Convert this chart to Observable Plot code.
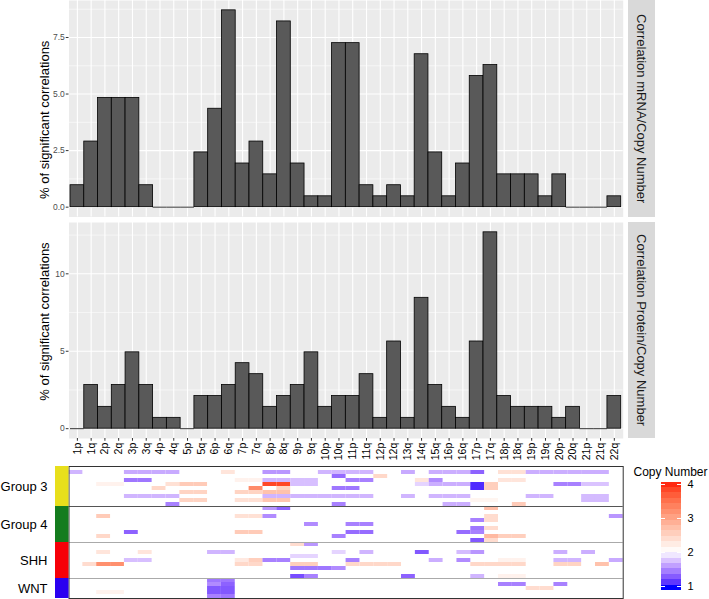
<!DOCTYPE html>
<html><head><meta charset="utf-8">
<script src="https://cdn.jsdelivr.net/npm/d3@7"></script>
<script src="https://cdn.jsdelivr.net/npm/@observablehq/plot@0.6"></script>
<style>
body{margin:0;background:#fff;font-family:"Liberation Sans",Arial,Helvetica,sans-serif;}
#root{position:relative;width:709px;height:599px;overflow:hidden;background:#fff;}
#root > *{position:absolute;}
.strip{background:#D9D9D9;color:#1A1A1A;font-size:13px;writing-mode:vertical-rl;display:flex;align-items:center;justify-content:center;white-space:nowrap;}
</style></head><body><div id="root"></div>
<script>
// ---------------- data ----------------
const arms = ["1p","1q","2p","2q","3p","3q","4p","4q","5p","5q","6p","6q","7p","7q","8p","8q","9p","9q","10p","10q",
  "11p","11q","12p","12q","13q","14q","15q","16p","16q","17p","17q","18p","18q","19p","19q","20p","20q","21p","21q","22q"];
const mrnaPct = [0.97,2.90,4.83,4.83,4.83,0.97,0,0,0,2.42,4.35,8.70,1.93,2.90,1.45,8.21,1.93,0.48,0.48,7.25,
  7.25,0.97,0.48,0.97,0.48,6.76,2.42,0.48,1.93,5.80,6.28,1.45,1.45,1.45,0.48,1.45,0,0,0,0.48];
const proteinPct = [0,2.82,1.41,2.82,4.93,2.82,0.70,0.70,0,2.11,2.11,2.82,4.23,3.52,1.41,2.11,2.82,4.93,1.41,2.11,
  2.11,3.52,0.70,5.63,0.70,8.45,2.82,1.41,0.70,5.63,12.68,2.11,1.41,1.41,1.41,0.70,1.41,0,0,2.11];
const mrnaTicks = [0, 2.5, 5, 7.5];
const mrnaMinor = [1.25, 3.75, 6.25, 8.75];
const proteinTicks = [0, 5, 10];
const proteinMinor = [2.5, 7.5, 12.5];
const yTitle = "% of significant correlations";
const stripLabels = ["Correlation mRNA/Copy Number", "Correlation Protein/Copy Number"];

const groupNames = ["Group 3", "Group 4", "SHH", "WNT"];
const groupSizes = [10, 9, 9, 5];
const groupColors = ["#e8df1c", "#147c1e", "#f60008", "#2a00f0"];

// [group, sample row within group, first arm, last arm, copy number]
const cnSegments = [
  ["Group 3",1,"1p","1p",1.65],["Group 3",1,"3p","4q",1.6],["Group 3",1,"6q","6q",2.3],["Group 3",1,"8p","8q",1.5],
  ["Group 3",1,"10p","11q",1.65],["Group 3",1,"13q","13q",1.6],["Group 3",1,"15q","16q",1.62],["Group 3",1,"17p","17p",1.25],
  ["Group 3",1,"18p","18q",2.35],["Group 3",1,"19p","21q",1.62],
  ["Group 3",2,"10q","10q",1.3],["Group 3",2,"12p","12p",2.45],
  ["Group 3",3,"3p","3q",1.35],["Group 3",3,"7p","7q",2.15],["Group 3",3,"8p","8q",1.65],["Group 3",3,"9p","9q",1.7],
  ["Group 3",3,"11p","11q",1.4],["Group 3",3,"14q","14q",2.3],["Group 3",3,"15q","15q",1.45],["Group 3",3,"18p","18q",2.3],
  ["Group 3",4,"2p","2q",2.15],["Group 3",4,"4q","4q",2.35],["Group 3",4,"5p","5q",2.6],["Group 3",4,"8p","8q",3.9],
  ["Group 3",4,"9p","9q",1.7],["Group 3",4,"14q","14q",1.8],["Group 3",4,"15q","16q",1.62],["Group 3",4,"17p","17p",1.0],
  ["Group 3",4,"17q","17q",2.55],["Group 3",4,"20p","20q",1.4],["Group 3",4,"21p","21q",1.72],
  ["Group 3",5,"4p","4p",2.45],["Group 3",5,"7q","7q",3.3],["Group 3",5,"8q","8q",2.5],["Group 3",5,"10q","11p",1.35],
  ["Group 3",5,"17p","17p",1.0],["Group 3",5,"17q","17q",2.55],
  ["Group 3",6,"5p","5q",2.5],["Group 3",6,"7p","7q",2.5],["Group 3",6,"8p","8q",2.7],
  ["Group 3",7,"3p","4q",1.65],["Group 3",7,"8p","11q",1.65],["Group 3",7,"13q","13q",1.65],["Group 3",7,"15q","16q",1.65],
  ["Group 3",7,"19p","19q",1.65],["Group 3",7,"21p","21q",1.68],
  ["Group 3",8,"5p","5q",2.5],["Group 3",8,"7p","7q",2.35],["Group 3",8,"8p","8q",2.65],["Group 3",8,"17p","17q",2.12],
  ["Group 3",8,"21p","21q",1.68],
  ["Group 3",9,"4q","4q",1.4],["Group 3",9,"10q","10q",1.4],["Group 3",9,"16p","16q",1.62],["Group 3",9,"18q","18q",2.6],

  ["Group 4",0,"8p","8p",1.5],["Group 4",0,"8q","8q",1.25],["Group 4",0,"17q","17q",2.75],
  ["Group 4",2,"2p","2p",2.6],["Group 4",2,"7p","7q",2.35],["Group 4",2,"8p","8p",1.45],["Group 4",2,"17q","17q",2.4],
  ["Group 4",2,"22q","22q",1.5],
  ["Group 4",3,"17p","17p",1.4],["Group 4",3,"17q","17q",2.4],
  ["Group 4",4,"9q","9q",1.45],["Group 4",4,"11p","11q",1.4],
  ["Group 4",5,"17p","17p",1.35],["Group 4",5,"17q","17q",2.4],
  ["Group 4",6,"3p","3p",1.25],["Group 4",6,"7p","7q",2.6],["Group 4",6,"11p","11q",1.3],["Group 4",6,"16q","16q",1.3],
  ["Group 4",6,"17p","17p",1.4],
  ["Group 4",7,"2p","2p",2.45],["Group 4",7,"10q","10q",1.4],["Group 4",7,"17q","17q",2.8],["Group 4",7,"18p","18q",2.55],
  ["Group 4",8,"17p","17p",1.2],["Group 4",8,"17q","17q",2.4],

  ["SHH",0,"9p","9p",2.4],["SHH",0,"9q","9q",1.5],
  ["SHH",2,"2p","2p",2.3],["SHH",2,"3q","3q",2.3],["SHH",2,"6p","6q",1.65],["SHH",2,"10q","10q",1.8],["SHH",2,"11q","11q",1.65],
  ["SHH",2,"14q","14q",1.2],["SHH",2,"16q","16q",1.68],["SHH",2,"17p","17p",1.5],["SHH",2,"20p","20p",1.62],["SHH",2,"21p","21p",1.62],
  ["SHH",3,"9p","9q",1.8],
  ["SHH",4,"3p","3q",1.7],["SHH",4,"7p","7p",2.25],["SHH",4,"7q","7q",2.55],["SHH",4,"8p","8q",1.4],["SHH",4,"11p","11p",1.4],
  ["SHH",4,"15q","15q",1.62],["SHH",4,"16q","16q",1.45],["SHH",4,"18p","18q",2.15],["SHH",4,"20p","20q",1.65],["SHH",4,"22q","22q",1.6],
  ["SHH",5,"1q","1q",2.4],["SHH",5,"2p","2q",3.25],["SHH",5,"7p","7q",2.45],["SHH",5,"9p","9q",2.55],["SHH",5,"11p","12q",2.45],
  ["SHH",5,"17p","18q",2.45],["SHH",5,"20p","20q",2.5],["SHH",5,"21q","21q",2.7],
  ["SHH",6,"9p","10p",1.35],["SHH",6,"10q","10q",1.45],
  ["SHH",8,"9p","9p",1.15],["SHH",8,"9q","9q",1.4],["SHH",8,"13q","13q",1.25],["SHH",8,"17p","17p",1.65],["SHH",8,"18p","18q",2.15],

  ["WNT",0,"6p","6q",1.35],
  ["WNT",1,"6p","6p",1.45],["WNT",1,"6q","6q",1.25],["WNT",1,"18p","18q",1.4],["WNT",1,"20p","20p",1.4],
  ["WNT",2,"6p","6q",1.2],["WNT",2,"19p","19q",2.4],
  ["WNT",3,"2p","2q",2.15],["WNT",3,"6p","6q",1.2],
  ["WNT",4,"6p","6p",1.4],["WNT",4,"6q","6q",1.35]
];
const legendTitle = "Copy Number";
const legendTicks = [1, 2, 3, 4];
const cnLimits = [0.88, 4.07];

// ---------------- layout ----------------
const FONT = '"Liberation Sans", Arial, Helvetica, sans-serif';
const W = 709, PL = 68.5, PR = 622.7;
const root = document.getElementById("root");
function place(el, left, top) { el.style.left = left + "px"; el.style.top = top + "px"; root.appendChild(el); return el; }
const baseStyle = {fontFamily: FONT, background: "transparent", overflow: "visible"};

const barRows = arms.map((arm, i) => ({arm, mrna: mrnaPct[i], protein: proteinPct[i]}));

function barPanel({key, height, marginBottom, yDomain, major, minor, fmt, titleDy, showX}) {
  return Plot.plot({
    width: W, height, marginLeft: PL, marginRight: W - PR, marginTop: 0, marginBottom,
    style: baseStyle,
    x: {domain: arms, padding: 0, insetLeft: 1.5, insetRight: 2, round: false, axis: null},
    y: {domain: yDomain, axis: null},
    marks: [
      Plot.frame({fill: "#EBEBEB", stroke: null}),
      Plot.gridY(minor, {stroke: "#fff", strokeOpacity: 1, strokeWidth: 0.55}),
      Plot.gridY(major, {stroke: "#fff", strokeOpacity: 1, strokeWidth: 1.1}),
      Plot.gridX(arms, {stroke: "#fff", strokeOpacity: 1, strokeWidth: 1.1}),
      Plot.barY(barRows, {x: "arm", y: key, fill: "#595959", stroke: "#000", strokeWidth: 0.8}),
      Plot.tickY(barRows.filter(d => d[key] === 0), {x: "arm", y: key, stroke: "#000", strokeWidth: 0.8}),
      Plot.axisY(major, {tickFormat: fmt, tickSize: 2.75, tickPadding: 1.5, fontSize: 8.5, fill: "#4D4D4D", stroke: "#333", label: null}),
      Plot.text([yTitle], {frameAnchor: "left", textAnchor: "middle", lineAnchor: "middle", rotate: -90, dx: 44 - PL, dy: titleDy, fontSize: 13, fill: "#000"}),
      showX ? Plot.axisX(arms, {tickRotate: -90, tickSize: 2.75, tickPadding: 1.5, fontSize: 10.5, fill: "#000", stroke: "#333", label: null}) : null
    ]
  });
}

const yMaxTop = d3.max(mrnaPct), yMaxBot = d3.max(proteinPct);
place(barPanel({key: "mrna", height: 217, marginBottom: 0.5,
  yDomain: [-0.05 * yMaxTop, 1.05 * yMaxTop], major: mrnaTicks, minor: mrnaMinor,
  fmt: d => d.toFixed(1), titleDy: 11, showX: false}), 0, 0);
place(barPanel({key: "protein", height: 246, marginBottom: 30,
  yDomain: [-0.05 * yMaxBot, 1.05 * yMaxBot], major: proteinTicks, minor: proteinMinor,
  fmt: d => String(d), titleDy: -9, showX: true}), 0, 222);

// strips
[[0, 216.5], [222, 216]].forEach(([top, h], i) => {
  const s = document.createElement("div");
  s.className = "strip";
  s.style.width = "26.7px"; s.style.height = h + "px";
  s.textContent = stripLabels[i];
  place(s, 628.3, top);
});

// ---------------- heatmap ----------------
let acc = 0;
const groupTable = groupNames.map((name, i) => { const start = acc; acc += groupSizes[i]; return {name, color: groupColors[i], start, end: acc}; });
const totalRows = acc;
const armIndex = new Map(arms.map((a, i) => [a, i]));
const cells = cnSegments.flatMap(([g, r, a0, a1, cn]) => {
  const row = groupTable.find(d => d.name === g).start + r;
  return arms.slice(armIndex.get(a0), armIndex.get(a1) + 1).map(arm => ({arm, row, cn}));
});
const cnColor = {type: "linear", domain: [cnLimits[0], 2, cnLimits[1]], range: ["#0000ff", "#ffffff", "#ff2a12"], interpolate: d3.interpolateLab, clamp: true};

place(Plot.plot({
  width: W, height: 137, marginLeft: PL, marginRight: W - PR, marginTop: 4, marginBottom: 1,
  style: baseStyle,
  x: {domain: arms, padding: 0, round: false, axis: null},
  y: {domain: [0, totalRows], reverse: true, axis: null},
  color: cnColor,
  marks: [
    Plot.barY(cells, {x: "arm", y1: "row", y2: d => d.row + 1, fill: "cn"}),
    Plot.ruleY(groupTable.slice(1, 2), {y: "start", stroke: "#555", strokeWidth: 1}),
    Plot.ruleY(groupTable.slice(2), {y: "start", stroke: "#aaa", strokeWidth: 1}),
    Plot.frame({stroke: "#333", strokeWidth: 1})
  ]
}), 0, 462);

// group side bar + labels
place(Plot.plot({
  width: PL, height: 137, marginLeft: 55, marginRight: 0, marginTop: 4, marginBottom: 1,
  style: baseStyle,
  y: {domain: [0, totalRows], reverse: true, axis: null},
  color: {type: "identity"},
  marks: [
    Plot.rect(groupTable, {y1: "start", y2: "end", fill: "color"}),
    Plot.text(groupTable, {y: d => (d.start + d.end) / 2, text: "name", frameAnchor: "left", textAnchor: "end", dx: -8, fontSize: 13, fill: "#000"})
  ]
}), 0, 462);

// colour bar legend
const nbin = 20, [lo, hi] = cnLimits;
const bins = d3.range(nbin).map(i => ({y1: lo + i * (hi - lo) / nbin, y2: lo + (i + 1) * (hi - lo) / nbin, v: lo + i * (hi - lo) / (nbin - 1)}));
place(Plot.plot({
  width: 84, height: 144, marginLeft: 36, marginRight: 28, marginTop: 26.6, marginBottom: 8.9,
  style: baseStyle,
  y: {domain: [lo, hi], axis: null},
  color: cnColor,
  marks: [
    Plot.rect(bins, {y1: "y1", y2: "y2", fill: "v", shapeRendering: "crispEdges"}),
    Plot.tickY(legendTicks, {stroke: "#fff", insetRight: 16, strokeWidth: 1}),
    Plot.tickY(legendTicks, {stroke: "#fff", insetLeft: 16, strokeWidth: 1}),
    Plot.axisY(legendTicks, {anchor: "right", tickSize: 0, tickPadding: 6, fontSize: 11, fill: "#000", label: null}),
    Plot.text([legendTitle], {frameAnchor: "top-left", textAnchor: "start", lineAnchor: "middle", dx: -28, dy: -10, fontSize: 12, fill: "#000"})
  ]
}), 625, 455);
</script>
</body></html>
